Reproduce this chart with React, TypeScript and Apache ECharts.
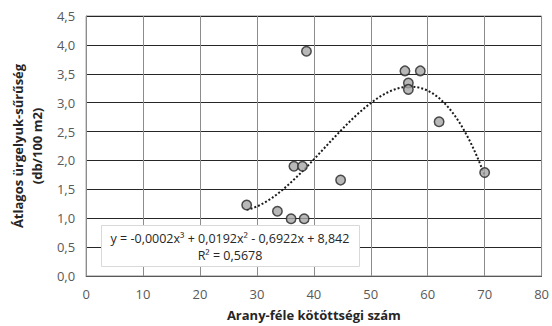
import React, { useEffect, useRef } from "react";
import * as echarts from "echarts";

const xValues = [28.2, 33.6, 36.0, 38.3, 36.5, 38.0, 38.7, 44.7, 56.0, 58.7, 56.6, 56.6, 62.0, 70.0];
const yValues = [1.23, 1.12, 0.99, 0.99, 1.9, 1.9, 3.89, 1.66, 3.55, 3.55, 3.34, 3.23, 2.67, 1.79];
const equationLines = ["y = -0,0002x³ + 0,0192x² - 0,6922x + 8,842", "R² = 0,5678"];
const xTitle = "Arany-féle kötöttségi szám";
const yTitle = "Átlagos ürgelyuk-sűrűség\n(db/100 m2)";

function cubicFit(xs: number[], ys: number[]): number[] {
  const n = 4;
  const A: number[][] = [];
  for (let i = 0; i < n; i++) {
    const row: number[] = [];
    for (let j = 0; j < n; j++) {
      let s = 0;
      for (let k = 0; k < xs.length; k++) s += Math.pow(xs[k], i + j);
      row.push(s);
    }
    let b = 0;
    for (let k = 0; k < xs.length; k++) b += ys[k] * Math.pow(xs[k], i);
    row.push(b);
    A.push(row);
  }
  for (let c = 0; c < n; c++) {
    let p = c;
    for (let r = c + 1; r < n; r++) if (Math.abs(A[r][c]) > Math.abs(A[p][c])) p = r;
    [A[c], A[p]] = [A[p], A[c]];
    for (let r = 0; r < n; r++) {
      if (r === c) continue;
      const f = A[r][c] / A[c][c];
      for (let k = c; k <= n; k++) A[r][k] -= f * A[c][k];
    }
  }
  return A.map((row, i) => row[n] / row[i]);
}

export default function App() {
  const ref = useRef<HTMLDivElement>(null);
  useEffect(() => {
    if (!ref.current) return;
    const chart = echarts.init(ref.current, null, { renderer: "svg" });
    const coef = cubicFit(xValues, yValues);
    const xmin = Math.min(...xValues);
    const xmax = Math.max(...xValues);
    const trend: number[][] = [];
    const steps = 120;
    for (let i = 0; i <= steps; i++) {
      const x = xmin + ((xmax - xmin) * i) / steps;
      const y = coef[0] + coef[1] * x + coef[2] * x * x + coef[3] * x * x * x;
      trend.push([x, y]);
    }
    const font = "'Open Sans', sans-serif";
    chart.setOption({
      animation: false,
      textStyle: { fontFamily: font },
      grid: { left: 84, right: 10, top: 16, bottom: 50, containLabel: false, show: true, borderColor: "#8c8c8c", borderWidth: 1 },
      xAxis: {
        type: "value",
        min: 0,
        max: 80,
        interval: 10,
        name: xTitle,
        nameLocation: "middle",
        nameGap: 32,
        nameTextStyle: { fontFamily: font, fontWeight: "bold", fontSize: 13, color: "#262626" },
        axisLine: { show: true, lineStyle: { color: "#595959" } },
        axisTick: { show: false },
        axisLabel: { color: "#595959", fontSize: 13, fontFamily: font, margin: 11 },
        splitLine: { show: true, lineStyle: { color: "#8c8c8c", width: 1 } },
      },
      yAxis: {
        type: "value",
        min: 0,
        max: 4.5,
        interval: 0.5,
        name: yTitle,
        nameLocation: "middle",
        nameGap: 35,
        nameRotate: 90,
        nameTextStyle: { fontFamily: font, fontWeight: "bold", fontSize: 13, color: "#262626", lineHeight: 19 },
        axisLine: { show: true, lineStyle: { color: "#8c8c8c" } },
        axisTick: { show: false },
        axisLabel: {
          color: "#595959",
          fontSize: 13,
          fontFamily: font,
          margin: 11,
          formatter: (v: number) => v.toFixed(1).replace(".", ","),
        },
        splitLine: { show: true, lineStyle: { color: "#262626", width: 1 } },
      },
      series: [
        {
          type: "line",
          data: trend,
          showSymbol: false,
          symbol: "none",
          lineStyle: { color: "#1a1a1a", width: 2, type: [2, 2] },
          z: 2,
        },
        {
          type: "scatter",
          data: xValues.map((x, i) => [x, yValues[i]]),
          symbol: "circle",
          symbolSize: 9.5,
          itemStyle: { color: "#a6a6a6", borderColor: "#262626", borderWidth: 1.5 },
          z: 3,
        },
      ],
      graphic: [
        {
          type: "rect",
          left: 101,
          top: 225,
          shape: { width: 258, height: 41 },
          style: { fill: "#ffffff", stroke: "#d9d9d9", lineWidth: 1 },
          z: 10,
        },
        {
          type: "text",
          x: 230,
          y: 238,
          style: { text: equationLines[0], font: "12.5px 'Open Sans', sans-serif", fill: "#262626", textAlign: "center", textVerticalAlign: "middle" },
          z: 11,
        },
        {
          type: "text",
          x: 230,
          y: 255,
          style: { text: equationLines[1], font: "12.5px 'Open Sans', sans-serif", fill: "#262626", textAlign: "center", textVerticalAlign: "middle" },
          z: 11,
        },
      ],
    });
    return () => chart.dispose();
  }, []);
  return <div ref={ref} style={{ width: 552, height: 326, position: "absolute", left: 0, top: 0 }} />;
}
